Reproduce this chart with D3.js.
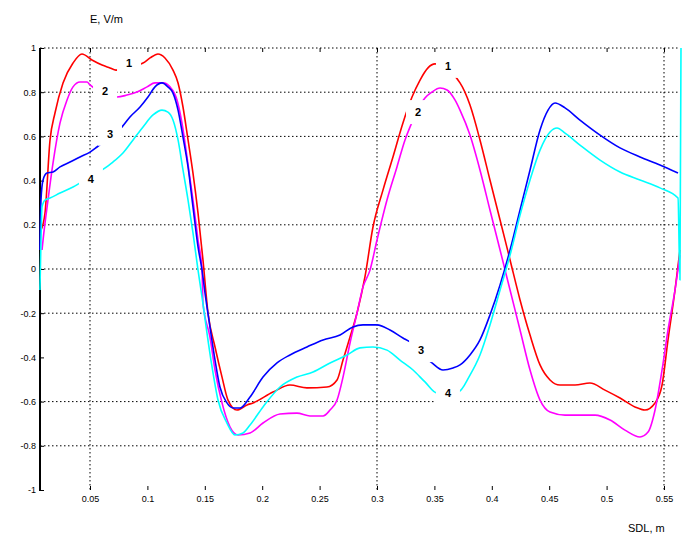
<!DOCTYPE html>
<html><head><meta charset="utf-8">
<script src="https://cdn.jsdelivr.net/npm/d3@7"></script>
<style>body{margin:0;background:#fff}svg{display:block;font-family:"Liberation Sans",Arial,sans-serif}</style>
</head><body>
<svg id="chart" width="687" height="540"></svg>
<script>
// ---- data ----
const xTicks = [0.05,0.1,0.15,0.2,0.25,0.3,0.35,0.4,0.45,0.5,0.55];
const xTickLabels = ["0.05","0.1","0.15","0.2","0.25","0.3","0.35","0.4","0.45","0.5","0.55"];
const yTicks = [1,0.8,0.6,0.4,0.2,0,-0.2,-0.4,-0.6,-0.8,-1];
const yTickLabels = ["1","0.8","0.6","0.4","0.2","0","-0.2","-0.4","-0.6","-0.8","-1"];
const xGrid = [0.05,0.3,0.55];
const yGrid = [1,0.8,0.6,0.2,0,-0.2,-0.6,-0.8];
const yTitle = "E, V/m";
const xTitle = "SDL, m";

const s1x = [0.0073,0.0108,0.0152,0.0195,0.0265,0.0352,0.0430,0.0517,0.0605,0.0674,0.0726,0.0962,0.1023,0.1092,0.1153,0.1223,0.1267,0.1310,0.1354,0.1397,0.1441,0.1484,0.1528,0.1589,0.1650,0.1702,0.1780,0.1868,0.1920,0.2094,0.2242,0.2390,0.2564,0.2652,0.2704,0.2765,0.2826,0.2895,0.2965,0.3052,0.3139,0.3226,0.3305,0.3375,0.3444,0.3505,0.3723,0.3810,0.3897,0.3984,0.4072,0.4159,0.4246,0.4333,0.4420,0.4507,0.4594,0.4725,0.4855,0.4986,0.5117,0.5247,0.5334,0.5422,0.5483,0.5535,0.5596,0.5639];
const s1y = [0.176,0.253,0.584,0.706,0.842,0.932,0.973,0.946,0.923,0.910,0.900,0.932,0.955,0.973,0.955,0.900,0.842,0.733,0.584,0.434,0.253,0.041,-0.199,-0.353,-0.489,-0.593,-0.638,-0.615,-0.606,-0.557,-0.525,-0.538,-0.534,-0.502,-0.412,-0.308,-0.199,-0.036,0.190,0.357,0.507,0.661,0.778,0.855,0.910,0.928,0.842,0.742,0.584,0.403,0.222,0.041,-0.140,-0.299,-0.434,-0.502,-0.525,-0.525,-0.516,-0.548,-0.584,-0.624,-0.638,-0.606,-0.525,-0.321,-0.095,0.086];

const s2x = [0.0082,0.0091,0.0134,0.0178,0.0239,0.0300,0.0352,0.0413,0.0474,0.0500,0.0735,0.0822,0.0909,0.0997,0.1066,0.1136,0.1197,0.1258,0.1301,0.1345,0.1397,0.1441,0.1476,0.1484,0.1545,0.1589,0.1650,0.1720,0.1789,0.1894,0.2007,0.2155,0.2303,0.2416,0.2530,0.2591,0.2652,0.2704,0.2765,0.2826,0.2878,0.2939,0.3000,0.3087,0.3174,0.3244,0.3288,0.3418,0.3479,0.3549,0.3610,0.3679,0.3723,0.3810,0.3897,0.3984,0.4072,0.4159,0.4246,0.4333,0.4420,0.4507,0.4638,0.4768,0.4899,0.5030,0.5160,0.5291,0.5361,0.5422,0.5483,0.5535,0.5596,0.5639];
const s2y = [0.086,0.131,0.312,0.480,0.661,0.765,0.824,0.846,0.846,0.833,0.778,0.787,0.801,0.824,0.842,0.842,0.824,0.765,0.661,0.507,0.312,0.131,-0.005,-0.154,-0.308,-0.457,-0.606,-0.715,-0.751,-0.742,-0.697,-0.656,-0.652,-0.665,-0.665,-0.638,-0.593,-0.489,-0.335,-0.199,-0.081,-0.005,0.131,0.312,0.462,0.584,0.643,0.774,0.801,0.819,0.810,0.765,0.719,0.606,0.448,0.267,0.086,-0.095,-0.276,-0.457,-0.593,-0.647,-0.661,-0.661,-0.661,-0.683,-0.729,-0.760,-0.738,-0.638,-0.457,-0.276,-0.095,0.063];

const s3x = [0.0064,0.0073,0.0091,0.0125,0.0178,0.0239,0.0326,0.0413,0.0500,0.0561,0.0779,0.0848,0.0936,0.1005,0.1066,0.1127,0.1179,0.1223,0.1267,0.1310,0.1354,0.1397,0.1441,0.1476,0.1502,0.1545,0.1589,0.1632,0.1693,0.1746,0.1807,0.1894,0.2007,0.2129,0.2242,0.2390,0.2530,0.2678,0.2791,0.2878,0.3000,0.3113,0.3226,0.3288,0.3479,0.3575,0.3662,0.3723,0.3810,0.3897,0.3984,0.4072,0.4159,0.4246,0.4333,0.4420,0.4490,0.4551,0.4638,0.4768,0.4943,0.5117,0.5291,0.5465,0.5622];
const s3y = [0.086,0.312,0.403,0.434,0.439,0.462,0.484,0.507,0.529,0.552,0.643,0.688,0.733,0.778,0.824,0.842,0.824,0.796,0.719,0.597,0.462,0.281,0.100,-0.005,-0.109,-0.262,-0.412,-0.534,-0.606,-0.629,-0.629,-0.579,-0.489,-0.425,-0.389,-0.353,-0.321,-0.299,-0.262,-0.253,-0.253,-0.276,-0.312,-0.330,-0.425,-0.457,-0.448,-0.434,-0.389,-0.321,-0.208,-0.072,0.086,0.267,0.448,0.629,0.719,0.751,0.729,0.674,0.606,0.548,0.507,0.471,0.434];

const s4x = [0.0064,0.0073,0.0082,0.0108,0.0152,0.0239,0.0352,0.0413,0.0605,0.0700,0.0787,0.0875,0.0962,0.1049,0.1127,0.1179,0.1223,0.1267,0.1310,0.1354,0.1397,0.1441,0.1476,0.1519,0.1563,0.1615,0.1693,0.1763,0.1833,0.1894,0.2007,0.2155,0.2303,0.2443,0.2591,0.2739,0.2852,0.2965,0.3087,0.3200,0.3314,0.3418,0.3523,0.3706,0.3810,0.3897,0.3984,0.4072,0.4159,0.4246,0.4333,0.4420,0.4507,0.4568,0.4638,0.4768,0.4943,0.5117,0.5291,0.5465,0.5622,0.5639,0.5648];
const s4y = [-0.095,0.131,0.281,0.312,0.321,0.344,0.371,0.389,0.448,0.484,0.525,0.584,0.643,0.697,0.719,0.710,0.674,0.584,0.448,0.312,0.163,-0.005,-0.127,-0.290,-0.443,-0.593,-0.697,-0.751,-0.742,-0.706,-0.624,-0.534,-0.489,-0.466,-0.425,-0.389,-0.357,-0.353,-0.367,-0.412,-0.457,-0.511,-0.561,-0.557,-0.480,-0.389,-0.253,-0.095,0.063,0.244,0.403,0.538,0.620,0.638,0.615,0.561,0.493,0.439,0.403,0.367,0.321,-0.050,1.0];

const seriesNames = ["1","2","3","4"];
const seriesColors = ["#ff0000","#ff00ff","#0000ff","#00ffff"];
// curve-number label positions (data coords) : [seriesIndex, x, y]
const labelPos = [[0,0.0840,0.930],[1,0.0631,0.805],[2,0.0674,0.612],[3,0.0508,0.407],
                  [0,0.3618,0.919],[1,0.3357,0.710],[2,0.3384,-0.367],[3,0.3618,-0.561]];

// ---- chart ----
const svg = d3.select("#chart");
const x = d3.scaleLinear().domain([0.05,0.55]).range([90,664]);
const y = d3.scaleLinear().domain([-1,1]).range([490,48]);
const xLeft = 40, xRight = 680;

// gridlines
svg.append("g").selectAll("line").data(yGrid).join("line")
  .attr("x1",xLeft).attr("x2",xRight).attr("y1",d=>y(d)).attr("y2",d=>y(d))
  .attr("stroke","#000").attr("stroke-width",1).attr("stroke-dasharray","1.5,2.5");
svg.append("g").selectAll("line").data(xGrid).join("line")
  .attr("x1",d=>x(d)).attr("x2",d=>x(d)).attr("y1",y(1)).attr("y2",y(-1))
  .attr("stroke","#000").attr("stroke-width",1).attr("stroke-dasharray","1.5,2.5");

// y axis
const yAxis = d3.axisLeft(y).tickValues(yTicks).tickSize(-4).tickPadding(4)
  .tickFormat((d,i)=>yTickLabels[i]);
const gy = svg.append("g").attr("transform",`translate(${xLeft},0)`).call(yAxis);
gy.select(".domain").remove();
gy.selectAll("text").attr("font-size",9).attr("fill","#000").attr("font-family","Liberation Sans, Arial");
gy.selectAll("line").attr("stroke","#000");
svg.append("line").attr("x1",xLeft).attr("x2",xLeft).attr("y1",y(1)).attr("y2",y(-1)+1)
  .attr("stroke","#000").attr("stroke-width",2);

// x axis (labels + ticks at bottom)
const xAxis = d3.axisBottom(x).tickValues(xTicks).tickSize(-4).tickPadding(6)
  .tickFormat((d,i)=>xTickLabels[i]);
const gx = svg.append("g").attr("transform",`translate(0,${y(-1)})`).call(xAxis);
gx.select(".domain").remove();
gx.selectAll("text").attr("font-size",9).attr("fill","#000").attr("font-family","Liberation Sans, Arial");
gx.selectAll("line").attr("stroke","#000");
const xAxisTop = d3.axisTop(x).tickValues(xTicks).tickSize(-4).tickFormat("");
const gxt = svg.append("g").attr("transform",`translate(0,${y(1)})`).call(xAxisTop);
gxt.select(".domain").remove();
gxt.selectAll("line").attr("stroke","#000");

// curves
const line = d3.line().x(d=>x(d[0])).y(d=>y(d[1])).curve(d3.curveMonotoneX);
const series = [[s1x,s1y],[s2x,s2y],[s3x,s3y],[s4x,s4y]];
series.forEach((s,i)=>{
  const pts = s[0].map((v,k)=>[v,s[1][k]]);
  svg.append("path").datum(pts).attr("d",line).attr("fill","none")
    .attr("stroke",seriesColors[i]).attr("stroke-width",1.6).attr("stroke-linejoin","round");
});

// curve labels with white boxes
const lg = svg.append("g");
labelPos.forEach(p=>{
  const cx = x(p[1]), cy = y(p[2]);
  lg.append("rect").attr("x",cx-12).attr("y",cy-12).attr("width",24).attr("height",24).attr("fill","#fff");
  lg.append("text").attr("x",cx).attr("y",cy).attr("dy","0.35em").attr("text-anchor","middle")
    .attr("font-size",11).attr("font-weight","bold").attr("fill","#000").text(seriesNames[p[0]]);
});

// titles
svg.append("text").attr("x",90).attr("y",23).attr("font-size",11).attr("fill","#000").text(yTitle);
svg.append("text").attr("x",628).attr("y",532).attr("font-size",11).attr("fill","#000").text(xTitle);
</script>
</body></html>
